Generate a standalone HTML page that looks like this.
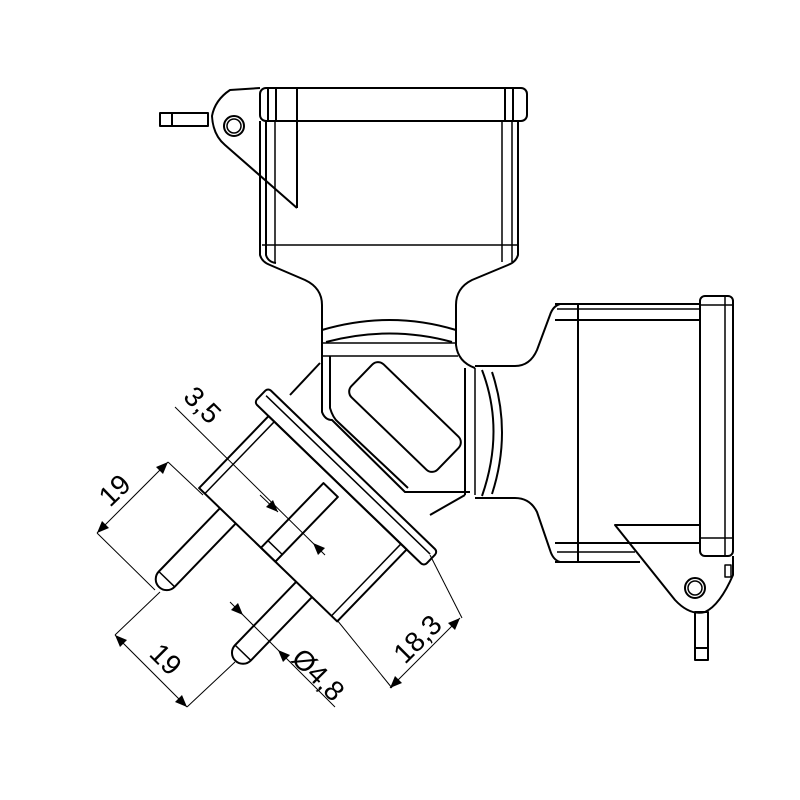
<!DOCTYPE html>
<html><head><meta charset="utf-8"><style>html,body{margin:0;padding:0;background:#fff}svg{display:block}</style></head>
<body>
<svg width="800" height="800" viewBox="0 0 800 800" xmlns="http://www.w3.org/2000/svg" font-family="Liberation Sans, sans-serif">
<g fill="none" stroke="#000" stroke-width="2" stroke-linejoin="round">
<!-- top socket -->
<rect x="260" y="88" width="267" height="33" rx="6"/>
<line x1="268" y1="88" x2="268" y2="121"/><line x1="276" y1="88" x2="276" y2="121"/>
<line x1="297" y1="88" x2="297" y2="208"/>
<line x1="505" y1="88" x2="505" y2="121"/><line x1="513" y1="88" x2="513" y2="121"/>
<path d="M260 121 V255 Q262 262 270 265 L305 280 Q322 288 322 305 V345"/>
<path d="M266 121 V255 Q268 262 276 263"/>
<line x1="275" y1="121" x2="275" y2="262" stroke-width="1.5"/>
<path d="M518 121 V255 Q516 262 508 265 L472 280 Q456 288 456 305 V345 Q458 362 475 368"/>
<line x1="512" y1="121" x2="512" y2="262" stroke-width="1.5"/>
<line x1="502" y1="121" x2="502" y2="262" stroke-width="1.5"/>
<line x1="262" y1="245" x2="518" y2="245" stroke-width="1.5"/>
<path d="M322 330 Q390 310 456 330"/>
<path d="M326 342 Q390 325 452 342"/>
<line x1="322" y1="343" x2="456" y2="343" stroke-width="1.5"/>
<line x1="322" y1="356" x2="458" y2="356" stroke-width="1.5"/>
<!-- hinge top -->
<rect x="160" y="113" width="48" height="13"/>
<line x1="172" y1="113" x2="172" y2="126"/>
<path d="M260 88 L230 90 Q215 100 212 116 Q213 135 225 145 L297 208"/>
<circle cx="234" cy="126" r="10"/><circle cx="234" cy="126" r="7" stroke-width="1.5"/>
<!-- central housing -->
<path d="M322 345 V412 Q325 420 332 420 L405 492 H470"/>
<path d="M330 356 V408 Q333 418 338 422 L408 488"/>
<line x1="465" y1="368" x2="465" y2="495"/>
<line x1="475" y1="368" x2="475" y2="495" stroke-width="1.5"/>
<rect x="0" y="0" width="120" height="46" rx="8" transform="translate(405,417) rotate(44) translate(-60,-23)"/>
<line x1="290" y1="395" x2="320" y2="363"/>
<line x1="430" y1="515" x2="465" y2="495"/>
<!-- right socket -->
<rect x="700" y="296" width="33" height="260" rx="5"/>
<line x1="700" y1="305" x2="733" y2="305" stroke-width="1.5"/>
<line x1="700" y1="538" x2="733" y2="538" stroke-width="1.5"/>
<line x1="725" y1="296" x2="725" y2="556" stroke-width="1.5"/>
<line x1="555" y1="304" x2="700" y2="304"/>
<line x1="557" y1="309" x2="700" y2="309" stroke-width="1.5"/>
<line x1="555" y1="320" x2="700" y2="320"/>
<line x1="578" y1="304" x2="578" y2="562"/>
<line x1="555" y1="543" x2="700" y2="543"/>
<line x1="557" y1="552" x2="635" y2="552" stroke-width="1.5"/>
<line x1="555" y1="562" x2="640" y2="562"/>
<path d="M560 304 Q553 306 550 315 L537 350 Q530 366 515 366 H475"/>
<path d="M475 498 H515 Q530 498 537 512 L550 550 Q553 560 560 562"/>
<path d="M482 370 Q505 430 482 496"/>
<path d="M492 372 Q512 432 492 494"/>
<!-- right hinge -->
<path d="M700 525 H615 L675 600 Q690 616 705 612 Q720 605 733 575 V556"/>
<circle cx="695" cy="588" r="10"/><circle cx="695" cy="588" r="7" stroke-width="1.5"/>
<rect x="695" y="612" width="13" height="48"/>
<line x1="695" y1="648" x2="708" y2="648"/>
<rect x="725" y="565" width="6" height="12" stroke-width="1.5"/>
<!-- plug -->
<g transform="translate(346,477) rotate(44)">
<rect x="-118" y="-10" width="236" height="20" rx="4"/>
<line x1="-114" y1="-3" x2="114" y2="-3" stroke-width="1.5"/>
<rect x="-98" y="10" width="192" height="100"/>
<line x1="-90" y1="10" x2="-90" y2="110" stroke-width="1.5"/>
<line x1="86" y1="10" x2="86" y2="110" stroke-width="1.5"/>
<rect x="-12" y="20" width="20" height="90"/>
<line x1="-12" y1="100" x2="8" y2="100" stroke-width="1.5"/>
<path d="M-69 110 V198 A11 11 0 0 0 -47 198 V110"/>
<line x1="-69" y1="198" x2="-47" y2="198" stroke-width="1.5"/>
<path d="M37 110 V198 A11 11 0 0 0 59 198 V110"/>
<line x1="37" y1="198" x2="59" y2="198" stroke-width="1.5"/>
</g>
</g>
<!-- dimensions -->
<g fill="none" stroke="#000" stroke-width="1">
<line x1="175" y1="407" x2="325" y2="555"/>
<line x1="260" y1="495" x2="278" y2="512"/>
<line x1="168" y1="462" x2="203" y2="495"/>
<line x1="97" y1="533" x2="155" y2="590"/>
<line x1="97" y1="533" x2="168" y2="462"/>
<line x1="115" y1="635" x2="160" y2="592"/>
<line x1="187" y1="707" x2="235" y2="662"/>
<line x1="115" y1="635" x2="187" y2="707"/>
<line x1="230" y1="602" x2="335" y2="707"/>
<line x1="337" y1="620" x2="392" y2="688"/>
<line x1="430" y1="555" x2="462" y2="618"/>
<line x1="390" y1="688" x2="460" y2="618"/>
</g>
<g fill="#000">
<polygon points="168,462 156,467 163,474"/>
<polygon points="97,533 109,528 102,521"/>
<polygon points="115,635 120,647 127,640"/>
<polygon points="187,707 175,702 182,695"/>
<polygon points="278,512 266,507 273,500"/>
<polygon points="313,543 325,548 318,555"/>
<polygon points="243,615 231,610 238,603"/>
<polygon points="278,650 290,655 283,662"/>
<polygon points="390,688 402,683 395,676"/>
<polygon points="460,618 448,623 455,630"/>
</g>
<g font-size="28" fill="#000">
<text transform="translate(110,508) rotate(-44)">19</text>
<text transform="translate(148,655) rotate(45)">19</text>
<text transform="translate(182,398) rotate(45)">3,5</text>
<text transform="translate(290,660) rotate(45)">Ø4,8</text>
<text transform="translate(405,665) rotate(-45)">18,3</text>
</g>
</svg>
</body></html>
